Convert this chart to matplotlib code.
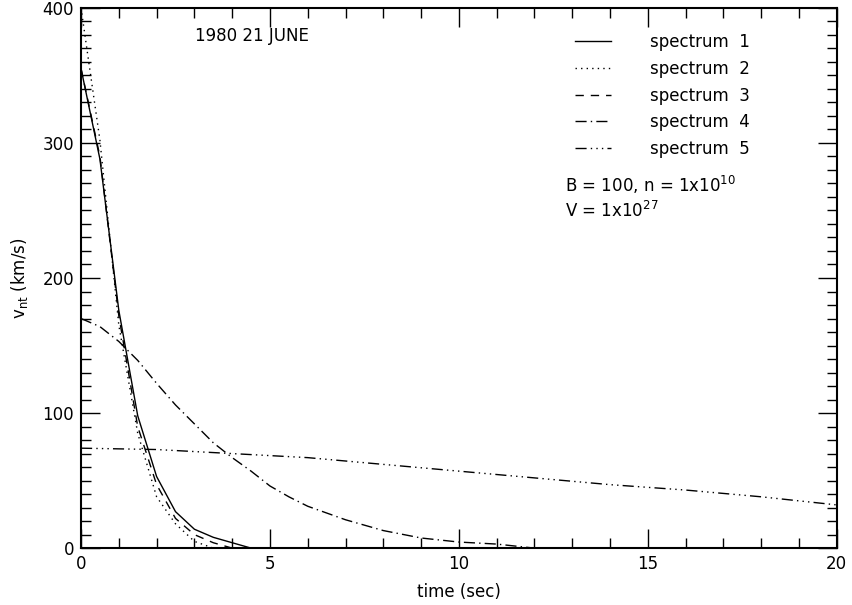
import numpy as np
import matplotlib
matplotlib.use("Agg")
import matplotlib.pyplot as plt

plt.rcParams['font.family'] = ['DejaVu Sans']

# values (time in sec, v_nt in km/s)
t1 = [0, 0.5, 1.0, 1.5, 2.0, 2.5, 3.0, 3.5, 4.0, 4.5, 5.0]
v1 = [355, 288, 176, 98, 53, 27, 14, 8, 4, 0, 0]
t2 = [0, 0.5, 1.0, 1.5, 2.0, 2.5, 3.0, 3.5, 4.0]
v2 = [400, 302, 165, 85, 38, 18, 5, 0, 0]
t3 = [0, 0.5, 1.0, 1.5, 2.0, 2.5, 3.0, 3.5, 4.0, 4.5]
v3 = [355, 290, 172, 90, 47, 22, 10, 4, 0, 0]
t4 = [0, 0.5, 1, 1.5, 2, 2.5, 3, 3.5, 4, 4.5, 5, 5.5, 6, 7, 8, 9, 10, 11, 12]
v4 = [170, 164, 153, 139, 122, 106, 92, 78, 67, 57, 46, 38, 31, 21, 13, 7.5, 4.5, 3, 0]
t5 = [0, 2, 4, 6, 8, 10, 12, 14, 16, 18, 20]
v5 = [74, 73, 70, 67, 62, 57, 52, 47, 43, 38, 32]

labels = ['spectrum  1', 'spectrum  2', 'spectrum  3', 'spectrum  4', 'spectrum  5']
styles = ['-', (0, (1, 3)), (0, (6, 5)), (0, (8, 3, 1, 3)), (0, (8, 3, 1, 3, 1, 3, 1, 3))]

fig = plt.figure(figsize=(8.53, 6.05), dpi=100)
ax = fig.add_axes([0.095, 0.094, 0.886, 0.893])

series = [(t1, v1), (t2, v2), (t3, v3), (t4, v4), (t5, v5)]
for (t, v), ls, lab in zip(series, styles, labels):
    ax.plot(t, v, color='black', lw=1.0, linestyle=ls, label=lab)

ax.set_xlim(0, 20)
ax.set_ylim(0, 400)
ax.set_xticks([0, 5, 10, 15, 20])
ax.set_xticks(np.arange(0, 21, 1), minor=True)
ax.set_yticks([0, 100, 200, 300, 400])
ax.set_yticks(np.arange(0, 401, 10), minor=True)
ax.tick_params(which='both', direction='in', top=True, right=True, labelsize=12, width=1)
ax.tick_params(which='major', length=14, pad=5)
ax.tick_params(which='minor', length=7)
for s in ax.spines.values():
    s.set_linewidth(1.5)

ax.set_xlabel('time (sec)', fontsize=12, labelpad=7)
ax.set_ylabel(r'v$_{\rm nt}$ (km/s)', fontsize=12, labelpad=9)

ax.text(0.151, 0.947, '1980 21 JUNE', transform=ax.transAxes, fontsize=12, va='center')
ax.legend(loc='upper left', bbox_to_anchor=(0.653, 0.953), frameon=False, fontsize=12,
          handlelength=2.2, handletextpad=2.3, labelspacing=0.52,
          borderpad=0, borderaxespad=0)
ax.text(0.640, 0.672, r'B = 100, n = 1x10$^{10}$', transform=ax.transAxes, fontsize=12, va='center')
ax.text(0.640, 0.624, r'V = 1x10$^{27}$', transform=ax.transAxes, fontsize=12, va='center')

fig.savefig('out.png', dpi=100)
